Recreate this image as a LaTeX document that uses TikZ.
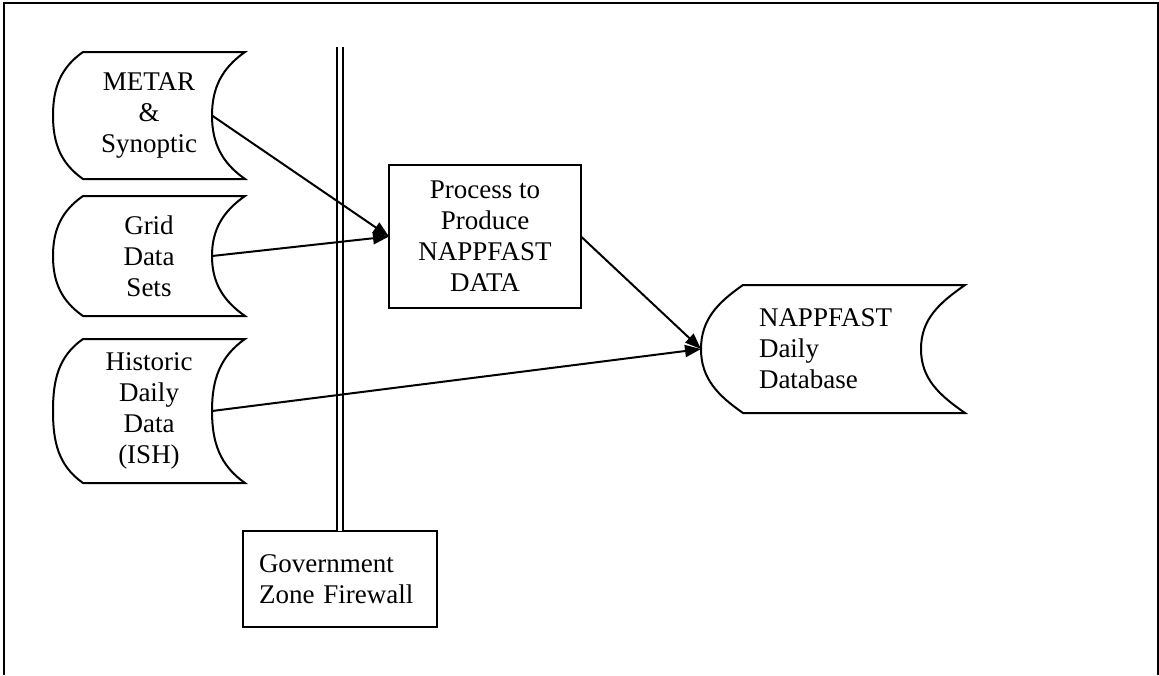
\documentclass[tikz,border=0pt]{standalone}
\usepackage{fontspec}
\setmainfont{Liberation Serif}
\usetikzlibrary{arrows.meta}

% outline of a stored-data symbol round a node: #1 node, #2 left bulge, #3 right bulge
\newcommand\storeoutline[3]{%
  \draw[line width=2pt] ([xshift=#2]#1.north west) -- (#1.north east)
    to[out=215,in=90] ([xshift=-#3]#1.east) coordinate (#1in)
    to[out=270,in=145] (#1.south east) -- ([xshift=#2]#1.south west)
    to[out=145,in=270] (#1.west) to[out=90,in=215] ([xshift=#2]#1.north west) -- cycle;}

\begin{document}
\begin{tikzpicture}[x=1pt,y=-1pt,
  font=\fontsize{27}{31}\selectfont,
  store/.style={shape=rectangle,align=center,outer sep=0pt,inner sep=0pt},
  procbox/.style={shape=rectangle,draw=black,outer sep=0pt,line width=2pt},
  link/.style={-{Triangle[length=16pt,width=12pt]},draw=black,line width=2pt}]
\useasboundingbox (0,0) rectangle (1159,675);
\draw[line width=2pt] (3.5,675) -- (3.5,3) -- (1157.5,3) -- (1157.5,675);

\node[store,minimum width=192,minimum height=127] (0) at (149,115.5) {METAR\\\&\\Synoptic};
\node[store,minimum width=192,minimum height=120] (1) at (149,256) {Grid\\Data\\Sets};
\node[store,minimum width=192,minimum height=144] (2) at (149,411) {Historic\\Daily\\Data\\(ISH)};
\node[procbox,align=center,minimum width=192,minimum height=143] (3) at (485,236.5) {Process to\\Produce\\NAPPFAST\\DATA};
\node[store,align=left,minimum width=264,minimum height=128,text width=148,inner xsep=58] (4) at (833,349) {NAPPFAST\\Daily\\Database};
\node[procbox,align=left,minimum height=96,text width=162,inner xsep=16] (5) at (340,579) {Government\\Zone Firewall};

\storeoutline{0}{30pt}{33pt}
\storeoutline{1}{30pt}{33pt}
\storeoutline{2}{30pt}{33pt}
\storeoutline{4}{42pt}{44pt}

\coordinate (fw) at (340,47);
\draw [line width=1.6pt,double,double distance=4.5pt] (fw) -- (5.north);

\draw [link] (0in) -- (3.west);
\draw [link] (1in) -- (3.west);
\draw [link] (2in) -- (4.west);
\draw [link] (3.east) -- (4.west);
\end{tikzpicture}
\end{document}
